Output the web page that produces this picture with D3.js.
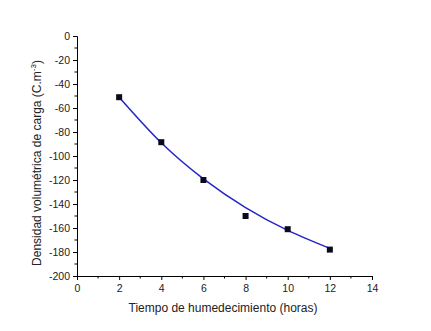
<!DOCTYPE html>
<html>
<head>
<meta charset="utf-8">
<script src="https://cdn.jsdelivr.net/npm/d3@7"></script>
<style>
  body { margin: 0; background: #fff; }
  text { font-family: "Liberation Sans", Arial, sans-serif; }
</style>
</head>
<body>
<div id="chart"></div>
<script>
var tiempo = [2, 4, 6, 8, 10, 12]
var densidad = [-51, -88.5, -120, -150, -161, -178]

// fitted curve
var ajusteX = [2, 4, 6, 8, 10, 12]
var ajusteY = [-51, -89, -119, -143, -162, -177]

var xTicks = [0, 2, 4, 6, 8, 10, 12, 14]
var yTicks = [0, -20, -40, -60, -80, -100, -120, -140, -160, -180, -200]

var svg = d3.select("#chart").append("svg")
  .attr("width", 431)
  .attr("height", 331)

var x = d3.scaleLinear()
  .domain([0, 14])
  .range([77, 372])

var y = d3.scaleLinear()
  .domain([-200, 0])
  .range([276, 36])

// minor ticks
var xMinor = d3.range(1, 14, 2)
var yMinor = d3.range(-190, 0, 20)

svg.selectAll("xminor")
  .data(xMinor)
  .enter()
  .append("line")
  .attr("x1", d => x(d))
  .attr("x2", d => x(d))
  .attr("y1", y(-200))
  .attr("y2", y(-200) + 2.5)
  .attr("stroke", "black")

svg.selectAll("yminor")
  .data(yMinor)
  .enter()
  .append("line")
  .attr("x1", x(0) - 2.5)
  .attr("x2", x(0))
  .attr("y1", d => y(d))
  .attr("y2", d => y(d))
  .attr("stroke", "black")

var xAxis = svg.append("g")
  .attr("transform", "translate(0," + y(-200) + ")")
  .call(d3.axisBottom(x).tickValues(xTicks).tickSize(4).tickPadding(5).tickFormat(d3.format("d")))

var yAxis = svg.append("g")
  .attr("transform", "translate(" + x(0) + ",0)")
  .call(d3.axisLeft(y).tickValues(yTicks).tickSize(4).tickPadding(3).tickFormat(d => d == 0 ? "0" : "-" + Math.abs(d)))

svg.selectAll(".domain").attr("stroke", "black")
svg.selectAll(".tick line").attr("stroke", "black")
svg.selectAll(".tick text")
  .attr("font-size", 10.5)
  .attr("fill", "#222")
  .attr("font-family", "Liberation Sans, Arial, sans-serif")

// fit line
var ajuste = ajusteX.map((d, i) => [d, ajusteY[i]])
svg.append("path")
  .datum(ajuste)
  .attr("d", d3.line().x(d => x(d[0])).y(d => y(d[1])).curve(d3.curveNatural))
  .attr("fill", "none")
  .attr("stroke", "#2626c8")
  .attr("stroke-width", 1.5)

// data points
svg.selectAll("pts")
  .data(tiempo)
  .enter()
  .append("rect")
  .attr("x", (d, i) => x(d) - 3)
  .attr("y", (d, i) => y(densidad[i]) - 3)
  .attr("width", 6)
  .attr("height", 6)
  .attr("fill", "#0a0a1e")

svg.append("text")
  .text("Tiempo de humedecimiento (horas)")
  .attr("x", 223)
  .attr("y", 312)
  .attr("text-anchor", "middle")
  .attr("font-size", 12)
  .attr("fill", "#222")

var yl = svg.append("text")
  .attr("transform", "translate(41,163) rotate(-90)")
  .attr("text-anchor", "middle")
  .attr("font-size", 12)
  .attr("fill", "#222")
yl.append("tspan").text("Densidad volumétrica de carga (C.m")
yl.append("tspan").text("-3").attr("font-size", 8).attr("dy", -5)
yl.append("tspan").text(")").attr("dy", 5)
</script>
</body>
</html>
